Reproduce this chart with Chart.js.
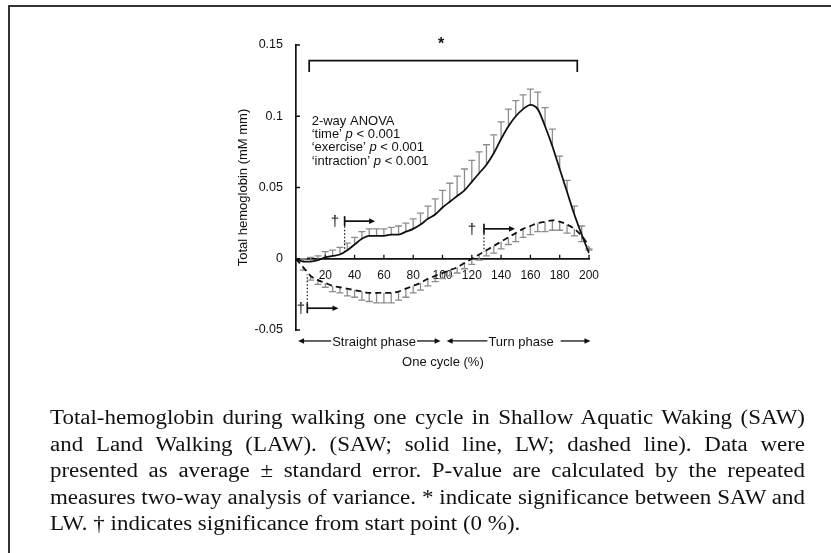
<!DOCTYPE html>
<html lang="en">
<head>
<meta charset="UTF-8">
<title>Total hemoglobin during one walking cycle</title>
<style>
  html, body { margin: 0; background: #fff; overflow: hidden; }
  #frame { position: absolute; left: 8px; top: 5px; right: -10px; bottom: -10px;
           border-top: 2px solid #333; border-left: 2px solid #333; }
  #chartBox { position: absolute; left: 0; top: 0; width: 831px; height: 553px; }
  #caption { position: absolute; left: 50px; top: 404px; width: 658px;
             transform: scaleX(1.1474); transform-origin: 0 0;
             font-family: "Liberation Serif", serif; font-size: 20px; line-height: 26.5px; color: #111; }
  #caption div { white-space: nowrap; text-align: justify; text-align-last: justify; }
  #caption div.last { text-align-last: left; }
</style>
</head>
<body>
<div id="frame"></div>
<div id="chartBox"><canvas id="hbChart"></canvas></div>
<div id="caption">
  <div>Total-hemoglobin during walking one cycle in Shallow Aquatic Waking (SAW)</div>
  <div>and Land Walking (LAW). (SAW; solid line, LW; dashed line). Data were</div>
  <div>presented as average ± standard error. P-value are calculated by the repeated</div>
  <div>measures two-way analysis of variance. * indicate significance between SAW and</div>
  <div class="last">LW. † indicates significance from start point (0 %).</div>
</div>

<script src="https://cdn.jsdelivr.net/npm/chart.js"></script>
<script>
// one cycle (%) sampled every 5 %
const cycle = [0, 5, 10, 15, 20, 25, 30, 35, 40, 45, 50, 55, 60, 65, 70, 75, 80, 85, 90, 95, 100,
               105, 110, 115, 120, 125, 130, 135, 140, 145, 150, 155, 160, 165, 170, 175, 180, 185, 190, 195, 200];

// SAW (solid line) mean and upper standard error
const sawMean = [0, -0.002, -0.002, -0.001, 0.001, 0.002, 0.003, 0.006, 0.010, 0.014, 0.016,
                 0.016, 0.016, 0.017, 0.017, 0.019, 0.021, 0.024, 0.028, 0.031, 0.036,
                 0.040, 0.044, 0.048, 0.054, 0.060, 0.066, 0.074, 0.084, 0.093, 0.100,
                 0.105, 0.108, 0.105, 0.093, 0.079, 0.063, 0.047, 0.031, 0.017, 0.004];
const sawSE = [0, 0.002, 0.003, 0.003, 0.004, 0.004, 0.005, 0.005, 0.005, 0.005, 0.005,
               0.005, 0.005, 0.005, 0.006, 0.006, 0.007, 0.008, 0.009, 0.011, 0.012,
               0.013, 0.014, 0.015, 0.015, 0.015, 0.014, 0.013, 0.012, 0.012, 0.011,
               0.010, 0.011, 0.012, 0.013, 0.012, 0.009, 0.008, 0.006, 0.006, 0.003];

// LW (dashed line) mean and lower standard error
const lwMean = [0, -0.006, -0.012, -0.015, -0.017, -0.019, -0.020, -0.021, -0.022, -0.023, -0.024,
                -0.024, -0.024, -0.024, -0.023, -0.021, -0.019, -0.017, -0.014, -0.012, -0.010,
                -0.008, -0.006, -0.003, 0.000, 0.003, 0.006, 0.009, 0.012, 0.015, 0.018,
                0.021, 0.023, 0.025, 0.026, 0.027, 0.026, 0.024, 0.021, 0.016, 0.009];
const lwSE = [0, 0.002, 0.003, 0.003, 0.003, 0.004, 0.004, 0.005, 0.005, 0.006, 0.006,
              0.007, 0.007, 0.007, 0.006, 0.006, 0.005, 0.005, 0.005, 0.004, 0.004,
              0.004, 0.004, 0.004, 0.004, 0.004, 0.004, 0.005, 0.005, 0.005, 0.006,
              0.006, 0.006, 0.006, 0.007, 0.007, 0.006, 0.006, 0.005, 0.004, 0.003];

const xTicks = [20, 40, 60, 80, 100, 120, 140, 160, 180, 200];
const yTicks = [-0.05, 0, 0.05, 0.1, 0.15];

const anovaLines = [
    [['2-way ANOVA', false]],
    [['\u2018time\u2019 ', false], ['p', true], [' < 0.001', false]],
    [['\u2018exercise\u2019 ', false], ['p', true], [' < 0.001', false]],
    [['\u2018intraction\u2019 ', false], ['p', true], [' < 0.001', false]]
];

const FONT = '"Liberation Sans", Arial, sans-serif';
const INK = '#111';

function toPoints(xs, ys) {
    return xs.map((x, i) => ({ x: x, y: ys[i] }));
}

// gray one-sided error bars (SAW up, LW down)
const errorBars = {
    id: 'errorBars',
    beforeDatasetsDraw(chart) {
        const { ctx, scales: { x, y } } = chart;
        ctx.save();
        ctx.strokeStyle = '#8c8c8c';
        ctx.lineWidth = 1.3;
        const cap = 3.5;
        const bar = (v, m, e) => {
            if (!e) return;
            const px = x.getPixelForValue(v);
            const y0 = y.getPixelForValue(m);
            const y1 = y.getPixelForValue(m + e);
            ctx.beginPath();
            ctx.moveTo(px, y0); ctx.lineTo(px, y1);
            ctx.moveTo(px - cap, y1); ctx.lineTo(px + cap, y1);
            ctx.stroke();
        };
        cycle.forEach((c, i) => {
            bar(c, sawMean[i], sawSE[i]);
            bar(c, lwMean[i], -lwSE[i]);
        });
        ctx.restore();
    }
};

// ticks, significance bracket, daggers, phase arrows, labels
const annotations = {
    id: 'annotations',
    afterDraw(chart) {
        const { ctx, scales: { x, y } } = chart;
        const px = v => x.getPixelForValue(v);
        const py = v => y.getPixelForValue(v);
        ctx.save();
        ctx.strokeStyle = INK;
        ctx.fillStyle = INK;

        // inward tick marks
        ctx.lineWidth = 1.3;
        ctx.beginPath();
        xTicks.forEach(t => { ctx.moveTo(px(t), py(0)); ctx.lineTo(px(t), py(0) - 4); });
        yTicks.forEach(t => { ctx.moveTo(px(0), py(t)); ctx.lineTo(px(0) + 4, py(t)); });
        ctx.stroke();

        // bracket with *
        ctx.lineWidth = 1.7;
        ctx.beginPath();
        ctx.moveTo(px(9), py(0.131));
        ctx.lineTo(px(9), py(0.139));
        ctx.lineTo(px(192), py(0.139));
        ctx.lineTo(px(192), py(0.131));
        ctx.stroke();
        ctx.font = 'bold 16px ' + FONT;
        ctx.textAlign = 'center';
        ctx.textBaseline = 'middle';
        ctx.fillText('*', px(99), py(0.150));

        // ANOVA block
        ctx.textAlign = 'left';
        let ty = py(0.0965);
        anovaLines.forEach(line => {
            let tx = px(10.7);
            line.forEach(([txt, it]) => {
                ctx.font = (it ? 'italic ' : '') + '13px ' + FONT;
                ctx.fillText(txt, tx, ty);
                tx += ctx.measureText(txt).width;
            });
            ty += 13.3;
        });

        // arrow helper
        const head = (xTip, yy, dir) => {
            ctx.beginPath();
            ctx.moveTo(xTip, yy);
            ctx.lineTo(xTip - dir * 6, yy - 2.8);
            ctx.lineTo(xTip - dir * 6, yy + 2.8);
            ctx.closePath();
            ctx.fill();
        };
        const hline = (x1, x2, yy) => {
            ctx.beginPath(); ctx.moveTo(x1, yy); ctx.lineTo(x2, yy); ctx.stroke();
        };

        // daggers: [dagger x, start x, end x, arrow y, dotted end y]
        const daggers = [
            [26.6, 33.2, 54, 0.0264, 0.005],
            [120, 128.3, 149.5, 0.021, 0.005],
            [3.4, 7.7, 29, -0.0347, -0.011]
        ];
        ctx.font = '15px ' + FONT;
        ctx.textAlign = 'center';
        daggers.forEach(([dx, sx, ex, ay, dy]) => {
            const yy = py(ay);
            ctx.lineWidth = 1.7;
            ctx.fillText('\u2020', px(dx), yy + 1);
            ctx.beginPath();
            ctx.moveTo(px(sx), yy - 5); ctx.lineTo(px(sx), yy + 5);
            ctx.stroke();
            hline(px(sx), px(ex) - 5, yy);
            head(px(ex), yy, 1);
            ctx.save();
            ctx.lineWidth = 1.2;
            ctx.setLineDash([1.5, 2]);
            ctx.beginPath();
            ctx.moveTo(px(sx), yy + (dy < ay ? 5 : -5));
            ctx.lineTo(px(sx), py(dy));
            ctx.stroke();
            ctx.restore();
        });

        // phase arrows under the axis
        ctx.font = '13px ' + FONT;
        ctx.lineWidth = 1.3;
        const phaseY = py(-0.0577);
        const phase = (x1, x2, label, cx, gapR) => {
            const w = ctx.measureText(label).width;
            const l = px(cx) - w / 2, r = px(cx) + w / 2;
            ctx.textAlign = 'center';
            ctx.fillText(label, px(cx), phaseY + 1);
            hline(px(x1) + 5, l - 1, phaseY);
            hline(r + gapR, px(x2) - 5, phaseY);
            head(px(x1), phaseY, -1);
            head(px(x2), phaseY, 1);
        };
        phase(1.4, 98.7, 'Straight phase', 53.3, 1);
        phase(102.8, 201, 'Turn phase', 153.6, 7);

        ctx.textAlign = 'center';
        ctx.fillText('One cycle (%)', px(100.3), py(-0.0729));
        ctx.restore();
    }
};

const ctx = document.getElementById('hbChart').getContext('2d');
const hbChart = new Chart(ctx, {
    type: 'line',
    data: {
        datasets: [{
            label: 'SAW',
            data: toPoints(cycle, sawMean),
            borderColor: INK,
            borderWidth: 1.8,
            pointRadius: 0,
            cubicInterpolationMode: 'monotone',
            fill: false
        }, {
            label: 'LW',
            data: toPoints(cycle, lwMean),
            borderColor: INK,
            borderWidth: 1.8,
            borderDash: [6, 4],
            pointRadius: 0,
            cubicInterpolationMode: 'monotone',
            fill: false
        }]
    },
    options: {
        responsive: true,
        maintainAspectRatio: false,
        animation: false,
        layout: { padding: { left: 236, right: 242, top: 45, bottom: 223 } },
        plugins: { legend: { display: false }, tooltip: { enabled: false } },
        scales: {
            x: {
                type: 'linear',
                min: 0,
                max: 200,
                position: { y: 0 },
                grid: { display: false },
                border: { color: INK, width: 1.7 },
                afterBuildTicks: s => { s.ticks = xTicks.map(v => ({ value: v })); },
                ticks: { padding: 2, color: INK, maxRotation: 0, font: { family: FONT, size: 12 } }
            },
            y: {
                min: -0.05,
                max: 0.15,
                grid: { display: false },
                border: { color: INK, width: 1.7 },
                afterBuildTicks: s => { s.ticks = yTicks.map(v => ({ value: v })); },
                afterFit: s => { s.width = 60; },
                ticks: {
                    padding: 5, color: INK, font: { family: FONT, size: 12.5 },
                    callback: v => String(+v.toFixed(2))
                },
                title: {
                    display: true, text: 'Total hemoglobin (mM mm)', color: INK,
                    padding: 0, font: { family: FONT, size: 13 }
                }
            }
        }
    },
    plugins: [errorBars, annotations]
});
</script>
</body>
</html>
